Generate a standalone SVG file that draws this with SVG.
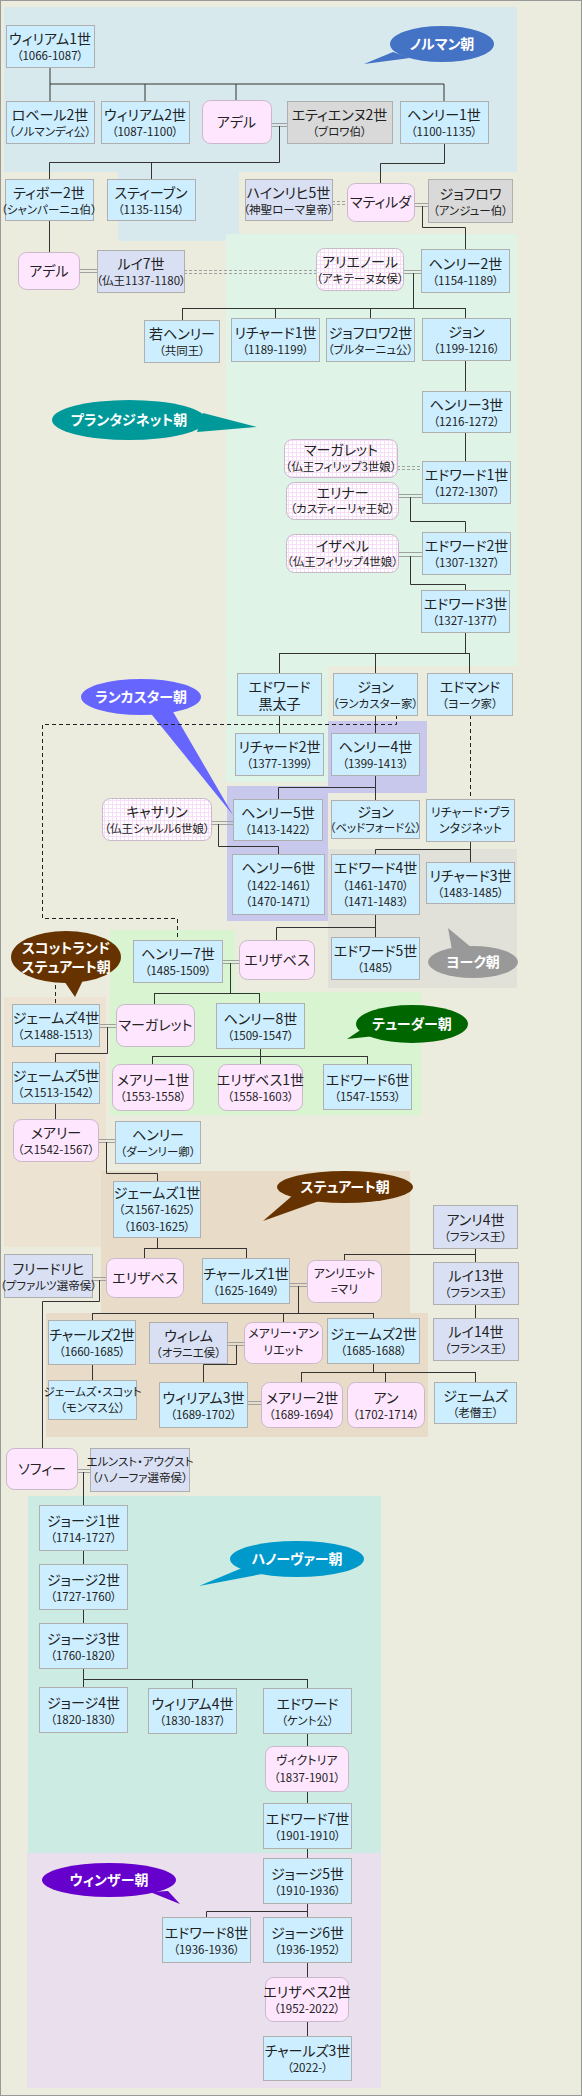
<svg xmlns="http://www.w3.org/2000/svg" width="582" height="2096" viewBox="0 0 582 2096">
<style>
text{font-family:"Noto Sans CJK JP","Noto Sans",sans-serif;font-feature-settings:"palt";text-anchor:middle;fill:#222}
.n{font-size:14px}
.s{font-size:11.5px}
.sm{font-size:12px}
.b{font-size:14px;font-weight:bold;fill:#fff}
.k{fill:#CCEEFF;stroke:#AFAFAF}
.q{fill:#FFE6FF;stroke:#C9B8C9}
.f{fill:url(#grid);stroke:#C9B8C9}
.l{fill:#D9E0F3;stroke:#AFAFAF}
.g{fill:#D9D9D9;stroke:#AFAFAF}
.c{fill:none;stroke:#333;stroke-width:1}
.m{fill:none;stroke:#A0A0A0;stroke-width:1}
.md{fill:none;stroke:#A0A0A0;stroke-width:1;stroke-dasharray:3 2}
.d{fill:none;stroke:#222;stroke-width:1;stroke-dasharray:4 3}
</style>
<defs>
<pattern id="grid" width="4" height="4" patternUnits="userSpaceOnUse">
<rect width="4" height="4" fill="#FFFFFF"/>
<path d="M0 0.5H4M0.5 0V4" stroke="#F8DDF8" stroke-width="1"/>
</pattern>
</defs>
<g id="bands">
<rect x="0.5" y="0.5" width="581" height="2095" fill="#ECECDE" stroke="#999"/>
<rect x="4" y="7" width="513" height="165" fill="#D7E9EC"/>
<rect x="118" y="172" width="121" height="69" fill="#D7E9EC"/>
<rect x="226" y="234" width="291" height="432" fill="#DFF4E7"/>
<rect x="226" y="666" width="102" height="116" fill="#DFF4E7"/>
<rect x="328" y="721" width="99" height="72" fill="#C8C8EC"/>
<rect x="227" y="786" width="101" height="135" fill="#C8C8EC"/>
<rect x="328" y="849" width="189" height="139" fill="#E1E1D9"/>
<rect x="110" y="930" width="125" height="185" fill="#D8F4D0"/>
<rect x="235" y="992" width="186" height="123" fill="#D8F4D0"/>
<rect x="4" y="997" width="102" height="250" fill="#ECE3D2"/>
<rect x="101" y="1171" width="309" height="142" fill="#E8DCC8"/>
<rect x="46" y="1313" width="382" height="124" fill="#E8DCC8"/>
<rect x="28" y="1496" width="353" height="357" fill="#CCEBE2"/>
<rect x="27" y="1853" width="354" height="235" fill="#EADFEC"/>
</g>
<g id="dynasty-labels">
<g id="lbl-norman"><path d="M393 52L364 64L410 58Z" fill="#4472C4"/><ellipse cx="442" cy="44" rx="52" ry="18" fill="#4472C4"/><text class="b" x="442" y="49">ノルマン朝</text></g>
<g id="lbl-plantagenet"><path d="M203 413L257 427L197 432Z" fill="#009999"/><ellipse cx="129" cy="420" rx="77" ry="20" fill="#009999"/><text class="b" x="129" y="425">プランタジネット朝</text></g>
<g id="lbl-lancaster"><path d="M148 710L233 815L172 710Z" fill="#6666FF"/><ellipse cx="141" cy="697" rx="60" ry="18" fill="#6666FF"/><text class="b" x="141" y="702">ランカスター朝</text></g>
<g id="lbl-york"><path d="M452 950L448 928L472 948Z" fill="#999"/><ellipse cx="473" cy="962" rx="45" ry="16" fill="#999"/><text class="b" x="473" y="967">ヨーク朝</text></g>
<g id="lbl-scot"><path d="M62 978L75 997L84 978Z" fill="#663300"/><ellipse cx="66" cy="957" rx="55" ry="26" fill="#663300"/><text class="b" x="66" y="953">スコットランド</text><text class="b" x="66" y="972">ステュアート朝</text></g>
<g id="lbl-tudor"><path d="M365 1027L347 1039L375 1036Z" fill="#006600"/><ellipse cx="412" cy="1024" rx="56" ry="19" fill="#006600"/><text class="b" x="412" y="1029">テューダー朝</text></g>
<g id="lbl-stuart"><path d="M292 1196L263 1221L322 1200Z" fill="#663300"/><ellipse cx="345" cy="1187" rx="68" ry="16" fill="#663300"/><text class="b" x="345" y="1192">ステュアート朝</text></g>
<g id="lbl-hanover"><path d="M242 1568L199 1586L262 1574Z" fill="#0099CC"/><ellipse cx="297" cy="1559" rx="67" ry="18" fill="#0099CC"/><text class="b" x="297" y="1564">ハノーヴァー朝</text></g>
<g id="lbl-windsor"><path d="M150 1892L180 1904L168 1891Z" fill="#6600CC"/><ellipse cx="109" cy="1880" rx="67" ry="17" fill="#6600CC"/><text class="b" x="109" y="1885">ウィンザー朝</text></g>
</g>
<g id="connectors">
<path class="c" d="M50 67V84H444V101M145 84V101M236 84V100M50 84V101"/>
<path class="m" d="M271 123.5H287M271 126.5H287"/>
<path class="c" d="M279.5 126V162.5H49.5V179M151.5 162V179"/>
<path class="c" d="M444.5 143V163.5H380.5V183"/>
<path class="md" d="M332 201.5H347M332 204.5H347"/>
<path class="m" d="M414 203.5H428M414 206.5H428"/>
<path class="c" d="M422.5 206V227.5H465.5V249"/>
<path class="c" d="M49.5 220V252"/>
<path class="m" d="M79 269.5H97M79 272.5H97"/>
<path class="md" d="M184 270.5H316M184 273.5H316"/>
<path class="m" d="M403 270.5H421M403 273.5H421"/>
<path class="c" d="M413.5 273V308.5M182.5 308.5H465.5M182.5 308V320M275.5 308V318M370.5 308V318M465.5 308V318"/>
<path class="c" d="M465.5 360V391M465.5 432V461"/>
<path class="md" d="M397 466.5H422M397 469.5H422"/>
<path class="m" d="M398 494.5H422M398 497.5H422"/>
<path class="c" d="M410.5 497V521.5H465.5V532"/>
<path class="m" d="M398 552.5H422M398 556.5H422"/>
<path class="c" d="M410.5 556V584.5H465.5V590"/>
<path class="c" d="M465.5 632V653.5M279.5 653.5H469.5M279.5 653V673M375.5 653V673M469.5 653V673"/>
<path class="c" d="M279.5 715V733M375.5 715V733"/>
<path class="d" d="M396.5 715V724.5H42.5V918.5H177.5V940"/>
<path class="d" d="M470.5 715V799"/>
<path class="c" d="M375.5 775V787.5H278.5V799M375.5 787V800"/>
<path class="m" d="M211 821.5H233M211 824.5H233"/>
<path class="c" d="M218.5 824V846.5H278.5V854"/>
<path class="c" d="M470.5 841V849.5H375.5V854M470.5 849V862"/>
<path class="c" d="M375.5 914V927.5H276.5V940M375.5 927V937"/>
<path class="m" d="M222 960.5H239M222 963.5H239"/>
<path class="c" d="M230.5 963V993.5M154.5 993.5H259.5M154.5 993V1004M259.5 993V1003"/>
<path class="d" d="M55.5 985V1004"/>
<path class="m" d="M99 1024.5H116M99 1027.5H116"/>
<path class="c" d="M107.5 1027V1053.5H55.5V1062"/>
<path class="c" d="M260.5 1048V1056.5M152.5 1056.5H367.5M152.5 1056V1064M260.5 1056V1064M367.5 1056V1064"/>
<path class="c" d="M55.5 1103V1119"/>
<path class="m" d="M98 1139.5H115M98 1142.5H115"/>
<path class="c" d="M106.5 1142V1173.5H157.5V1181"/>
<path class="c" d="M157.5 1237V1248.5M144.5 1248.5H246.5M144.5 1248V1258M246.5 1248V1258"/>
<path class="m" d="M92 1277.5H106M92 1280.5H106"/>
<path class="c" d="M99.5 1280V1301.5H42.5V1448"/>
<path class="c" d="M475.5 1248V1262M344.5 1254.5H475.5M344.5 1254V1260M475.5 1304V1318"/>
<path class="m" d="M289 1283.5H307M289 1286.5H307"/>
<path class="c" d="M298.5 1286V1313.5M92.5 1313.5H373.5M92.5 1313V1320M283.5 1313V1322M373.5 1313V1318"/>
<path class="m" d="M227 1342.5H244M227 1345.5H244"/>
<path class="c" d="M236.5 1345V1364.5H203.5V1382"/>
<path class="c" d="M373.5 1363V1372.5M301.5 1372.5H475.5M301.5 1372V1382M385.5 1372V1382M475.5 1372V1382"/>
<path class="c" d="M92.5 1364V1380"/>
<path class="m" d="M247 1401.5H261M247 1404.5H261"/>
<path class="m" d="M77 1469.5H90M77 1472.5H90"/>
<path class="c" d="M83.5 1472V1505M83.5 1550V1564M83.5 1609V1623"/>
<path class="c" d="M83.5 1668V1679.5H307.5M83.5 1679V1687M192.5 1679V1688M307.5 1679V1688"/>
<path class="c" d="M307.5 1733V1746M307.5 1791V1803M307.5 1848V1858"/>
<path class="c" d="M307.5 1903V1911.5H206.5V1917M307.5 1911V1917"/>
<path class="c" d="M307.5 1962V1977M307.5 2021V2036"/>
</g>
<g id="nodes">
<g id="w1"><rect class="k" x="6.5" y="25.5" width="88" height="42"/><text class="n" x="50" y="44">ウィリアム1世</text><text class="s" x="50" y="60">（1066-1087）</text></g>
<g id="robert"><rect class="k" x="6.5" y="101.5" width="88" height="42"/><text class="n" x="50" y="120">ロベール2世</text><text class="s" x="50" y="136">（ノルマンディ公）</text></g>
<g id="w2"><rect class="k" x="101.5" y="101.5" width="88" height="42"/><text class="n" x="145" y="120">ウィリアム2世</text><text class="s" x="145" y="136">（1087-1100）</text></g>
<g id="adele1"><rect class="q" x="202.5" y="100.5" width="69" height="43" rx="8"/><text class="n" x="236.5" y="126.5">アデル</text></g>
<g id="etienne"><rect class="g" x="287.5" y="101.5" width="105" height="42"/><text class="n" x="339.5" y="120">エティエンヌ2世</text><text class="s" x="339.5" y="136">（ブロワ伯）</text></g>
<g id="h1"><rect class="k" x="400.5" y="101.5" width="88" height="42"/><text class="n" x="444" y="120">ヘンリー1世</text><text class="s" x="444" y="136">（1100-1135）</text></g>
<g id="thibaut"><rect class="k" x="5.5" y="179.5" width="88" height="41"/><text class="n" x="49" y="197.5">ティボー2世</text><text class="s" x="49" y="213.5">（シャンパーニュ伯）</text></g>
<g id="stephen"><rect class="k" x="107.5" y="179.5" width="88" height="41"/><text class="n" x="151" y="197.5">スティーブン</text><text class="s" x="151" y="213.5">（1135-1154）</text></g>
<g id="heinrich"><rect class="l" x="245.5" y="179.5" width="87" height="41"/><text class="n" x="288.5" y="197.5">ハインリヒ5世</text><text class="s" x="288.5" y="213.5">（神聖ローマ皇帝）</text></g>
<g id="matilda"><rect class="q" x="347.5" y="183.5" width="67" height="38" rx="8"/><text class="n" x="380.5" y="207">マティルダ</text></g>
<g id="geoffrey"><rect class="g" x="428.5" y="179.5" width="84" height="43"/><text class="n" x="470.5" y="198.5">ジョフロワ</text><text class="s" x="470.5" y="214.5">（アンジュー伯）</text></g>
<g id="adele2"><rect class="q" x="18.5" y="252.5" width="61" height="37" rx="8"/><text class="n" x="49" y="275.5">アデル</text></g>
<g id="louis7"><rect class="l" x="97.5" y="250.5" width="87" height="42"/><text class="n" x="141" y="269">ルイ7世</text><text class="s" x="141" y="285">（仏王1137-1180）</text></g>
<g id="eleanor"><rect class="f" x="316.5" y="248.5" width="87" height="42" rx="8"/><text class="n" x="360" y="267">アリエノール</text><text class="s" x="360" y="283">（アキテーヌ女侯）</text></g>
<g id="h2"><rect class="k" x="421.5" y="249.5" width="88" height="43"/><text class="n" x="465.5" y="268.5">ヘンリー2世</text><text class="s" x="465.5" y="284.5">（1154-1189）</text></g>
<g id="younghenry"><rect class="k" x="144.5" y="320.5" width="75" height="42"/><text class="n" x="182" y="339">若ヘンリー</text><text class="s" x="182" y="355">（共同王）</text></g>
<g id="richard1"><rect class="k" x="231.5" y="318.5" width="88" height="43"/><text class="n" x="275.5" y="337.5">リチャード1世</text><text class="s" x="275.5" y="353.5">（1189-1199）</text></g>
<g id="geoffrey2"><rect class="k" x="326.5" y="318.5" width="88" height="43"/><text class="n" x="370.5" y="337.5">ジョフロワ2世</text><text class="s" x="370.5" y="353.5">（ブルターニュ公）</text></g>
<g id="john"><rect class="k" x="422.5" y="318.5" width="88" height="42"/><text class="n" x="466.5" y="337">ジョン</text><text class="s" x="466.5" y="353">（1199-1216）</text></g>
<g id="h3"><rect class="k" x="422.5" y="391.5" width="88" height="41"/><text class="n" x="466.5" y="409.5">ヘンリー3世</text><text class="s" x="466.5" y="425.5">（1216-1272）</text></g>
<g id="margaret1"><rect class="f" x="284.5" y="439.5" width="113" height="38" rx="8"/><text class="n" x="341" y="455">マーガレット</text><text class="s" x="341" y="470.5">（仏王フィリップ3世娘）</text></g>
<g id="e1"><rect class="k" x="422.5" y="461.5" width="88" height="42"/><text class="n" x="466.5" y="480">エドワード1世</text><text class="s" x="466.5" y="496">（1272-1307）</text></g>
<g id="eleanor2"><rect class="f" x="286.5" y="482.5" width="112" height="37" rx="8"/><text class="n" x="342.5" y="498">エリナー</text><text class="s" x="342.5" y="513">（カスティーリャ王妃）</text></g>
<g id="isabella"><rect class="f" x="286.5" y="534.5" width="112" height="38" rx="8"/><text class="n" x="342.5" y="550.5">イザベル</text><text class="s" x="342.5" y="566">（仏王フィリップ4世娘）</text></g>
<g id="e2"><rect class="k" x="422.5" y="532.5" width="88" height="42"/><text class="n" x="466.5" y="551">エドワード2世</text><text class="s" x="466.5" y="567">（1307-1327）</text></g>
<g id="e3"><rect class="k" x="421.5" y="590.5" width="88" height="42"/><text class="n" x="465.5" y="609">エドワード3世</text><text class="s" x="465.5" y="625">（1327-1377）</text></g>
<g id="blackprince"><rect class="k" x="237.5" y="673.5" width="84" height="42"/><text class="n" x="279.5" y="692">エドワード</text><text class="n" x="279.5" y="709">黒太子</text></g>
<g id="johngaunt"><rect class="k" x="333.5" y="673.5" width="84" height="42"/><text class="n" x="375.5" y="692">ジョン</text><text class="s" x="375.5" y="708">（ランカスター家）</text></g>
<g id="edmund"><rect class="k" x="427.5" y="673.5" width="85" height="42"/><text class="n" x="470" y="692">エドマンド</text><text class="s" x="470" y="708">（ヨーク家）</text></g>
<g id="r2"><rect class="k" x="235.5" y="733.5" width="88" height="42"/><text class="n" x="279.5" y="752">リチャード2世</text><text class="s" x="279.5" y="768">（1377-1399）</text></g>
<g id="h4"><rect class="k" x="331.5" y="733.5" width="88" height="42"/><text class="n" x="375.5" y="752">ヘンリー4世</text><text class="s" x="375.5" y="768">（1399-1413）</text></g>
<g id="catherine"><rect class="f" x="102.5" y="798.5" width="109" height="42" rx="8"/><text class="n" x="157" y="817">キャサリン</text><text class="s" x="157" y="833">（仏王シャルル6世娘）</text></g>
<g id="h5"><rect class="k" x="233.5" y="799.5" width="89" height="41"/><text class="n" x="278" y="817.5">ヘンリー5世</text><text class="s" x="278" y="833.5">（1413-1422）</text></g>
<g id="johnbedford"><rect class="k" x="331.5" y="800.5" width="88" height="38"/><text class="n" x="375.5" y="817">ジョン</text><text class="s" x="375.5" y="832">（ベッドフォード公）</text></g>
<g id="richardplantagenet"><rect class="k" x="426.5" y="799.5" width="88" height="42"/><text class="sm" x="470.5" y="817">リチャード・プラ</text><text class="sm" x="470.5" y="833">ンタジネット</text></g>
<g id="h6"><rect class="k" x="232.5" y="854.5" width="92" height="60"/><text class="n" x="278.5" y="873">ヘンリー6世</text><text class="s" x="278.5" y="890">（1422-1461）</text><text class="s" x="278.5" y="906">（1470-1471）</text></g>
<g id="e4"><rect class="k" x="331.5" y="854.5" width="88" height="60"/><text class="n" x="375.5" y="873">エドワード4世</text><text class="s" x="375.5" y="890">（1461-1470）</text><text class="s" x="375.5" y="906">（1471-1483）</text></g>
<g id="r3"><rect class="k" x="426.5" y="862.5" width="88" height="41"/><text class="n" x="470.5" y="880.5">リチャード3世</text><text class="s" x="470.5" y="896.5">（1483-1485）</text></g>
<g id="h7"><rect class="k" x="133.5" y="940.5" width="89" height="42"/><text class="n" x="178" y="959">ヘンリー7世</text><text class="s" x="178" y="975">（1485-1509）</text></g>
<g id="elizabethyork"><rect class="q" x="239.5" y="940.5" width="75" height="39" rx="8"/><text class="n" x="277" y="964.5">エリザベス</text></g>
<g id="e5"><rect class="k" x="331.5" y="937.5" width="88" height="42"/><text class="n" x="375.5" y="956">エドワード5世</text><text class="s" x="375.5" y="972">（1485）</text></g>
<g id="james4"><rect class="k" x="12.5" y="1004.5" width="87" height="42"/><text class="n" x="56" y="1023">ジェームズ4世</text><text class="s" x="56" y="1039">（ス1488-1513）</text></g>
<g id="margarettudor"><rect class="q" x="116.5" y="1004.5" width="78" height="42" rx="8"/><text class="n" x="155.5" y="1030">マーガレット</text></g>
<g id="h8"><rect class="k" x="216.5" y="1003.5" width="88" height="45"/><text class="n" x="260.5" y="1023.5">ヘンリー8世</text><text class="s" x="260.5" y="1039.5">（1509-1547）</text></g>
<g id="james5"><rect class="k" x="12.5" y="1062.5" width="87" height="41"/><text class="n" x="56" y="1080.5">ジェームズ5世</text><text class="s" x="56" y="1096.5">（ス1513-1542）</text></g>
<g id="mary1"><rect class="q" x="112.5" y="1064.5" width="81" height="46" rx="8"/><text class="n" x="153" y="1085">メアリー1世</text><text class="s" x="153" y="1101">（1553-1558）</text></g>
<g id="elizabeth1"><rect class="q" x="218.5" y="1064.5" width="84" height="46" rx="8"/><text class="n" x="260.5" y="1085">エリザベス1世</text><text class="s" x="260.5" y="1101">（1558-1603）</text></g>
<g id="e6"><rect class="k" x="323.5" y="1064.5" width="88" height="45"/><text class="n" x="367.5" y="1084.5">エドワード6世</text><text class="s" x="367.5" y="1100.5">（1547-1553）</text></g>
<g id="maryqs"><rect class="q" x="13.5" y="1119.5" width="85" height="42" rx="8"/><text class="n" x="56" y="1138">メアリー</text><text class="s" x="56" y="1154">（ス1542-1567）</text></g>
<g id="darnley"><rect class="k" x="115.5" y="1121.5" width="85" height="42"/><text class="n" x="158" y="1140">ヘンリー</text><text class="s" x="158" y="1156">（ダーンリー卿）</text></g>
<g id="james1"><rect class="k" x="113.5" y="1181.5" width="87" height="56"/><text class="n" x="157" y="1198">ジェームズ1世</text><text class="s" x="157" y="1214">（ス1567-1625）</text><text class="s" x="157" y="1231">（1603-1625）</text></g>
<g id="henri4"><rect class="l" x="433.5" y="1205.5" width="84" height="43"/><text class="n" x="475.5" y="1224.5">アンリ4世</text><text class="s" x="475.5" y="1240.5">（フランス王）</text></g>
<g id="frederick"><rect class="l" x="4.5" y="1254.5" width="88" height="43"/><text class="n" x="48.5" y="1273.5">フリードリヒ</text><text class="s" x="48.5" y="1289.5">（プファルツ選帝侯）</text></g>
<g id="elizabethst"><rect class="q" x="106.5" y="1258.5" width="77" height="39" rx="8"/><text class="n" x="145" y="1282.5">エリザベス</text></g>
<g id="charles1"><rect class="k" x="202.5" y="1258.5" width="87" height="45"/><text class="n" x="246" y="1278.5">チャールズ1世</text><text class="s" x="246" y="1294.5">（1625-1649）</text></g>
<g id="henrietta"><rect class="q" x="307.5" y="1260.5" width="74" height="42" rx="8"/><text class="sm" x="344.5" y="1278">アンリエット</text><text class="sm" x="344.5" y="1294">=マリ</text></g>
<g id="louis13"><rect class="l" x="433.5" y="1262.5" width="85" height="42"/><text class="n" x="476" y="1281">ルイ13世</text><text class="s" x="476" y="1297">（フランス王）</text></g>
<g id="louis14"><rect class="l" x="433.5" y="1318.5" width="85" height="42"/><text class="n" x="476" y="1337">ルイ14世</text><text class="s" x="476" y="1353">（フランス王）</text></g>
<g id="charles2"><rect class="k" x="48.5" y="1320.5" width="87" height="44"/><text class="n" x="92" y="1340">チャールズ2世</text><text class="s" x="92" y="1356">（1660-1685）</text></g>
<g id="willem"><rect class="l" x="149.5" y="1322.5" width="78" height="41"/><text class="n" x="188.5" y="1340.5">ウィレム</text><text class="s" x="188.5" y="1356.5">（オラニエ侯）</text></g>
<g id="maryhenrietta"><rect class="q" x="244.5" y="1322.5" width="78" height="41" rx="8"/><text class="sm" x="283.5" y="1338">メアリー・アン</text><text class="sm" x="283.5" y="1355">リエット</text></g>
<g id="james2"><rect class="k" x="327.5" y="1318.5" width="92" height="45"/><text class="n" x="373.5" y="1338.5">ジェームズ2世</text><text class="s" x="373.5" y="1354.5">（1685-1688）</text></g>
<g id="monmouth"><rect class="k" x="48.5" y="1380.5" width="88" height="39"/><text class="s" x="92.5" y="1396">ジェームズ・スコット</text><text class="s" x="92.5" y="1412">（モンマス公）</text></g>
<g id="w3"><rect class="k" x="159.5" y="1382.5" width="88" height="45"/><text class="n" x="203.5" y="1402.5">ウィリアム3世</text><text class="s" x="203.5" y="1418.5">（1689-1702）</text></g>
<g id="mary2"><rect class="q" x="261.5" y="1382.5" width="81" height="45" rx="8"/><text class="n" x="302" y="1402.5">メアリー2世</text><text class="s" x="302" y="1418.5">（1689-1694）</text></g>
<g id="anne"><rect class="q" x="347.5" y="1382.5" width="77" height="45" rx="8"/><text class="n" x="386" y="1402.5">アン</text><text class="s" x="386" y="1418.5">（1702-1714）</text></g>
<g id="jamesold"><rect class="k" x="434.5" y="1382.5" width="82" height="41"/><text class="n" x="475.5" y="1400.5">ジェームズ</text><text class="s" x="475.5" y="1416.5">（老僭王）</text></g>
<g id="sophia"><rect class="q" x="6.5" y="1448.5" width="71" height="41" rx="8"/><text class="n" x="42" y="1473.5">ソフィー</text></g>
<g id="ernest"><rect class="l" x="90.5" y="1448.5" width="99" height="43"/><text class="s" x="140" y="1466">エルンスト・アウグスト</text><text class="s" x="140" y="1482">（ハノーファ選帝侯）</text></g>
<g id="g1"><rect class="k" x="39.5" y="1505.5" width="88" height="45"/><text class="n" x="83.5" y="1525.5">ジョージ1世</text><text class="s" x="83.5" y="1541.5">（1714-1727）</text></g>
<g id="g2"><rect class="k" x="39.5" y="1564.5" width="88" height="45"/><text class="n" x="83.5" y="1584.5">ジョージ2世</text><text class="s" x="83.5" y="1600.5">（1727-1760）</text></g>
<g id="g3"><rect class="k" x="39.5" y="1623.5" width="88" height="45"/><text class="n" x="83.5" y="1643.5">ジョージ3世</text><text class="s" x="83.5" y="1659.5">（1760-1820）</text></g>
<g id="g4"><rect class="k" x="39.5" y="1687.5" width="88" height="45"/><text class="n" x="83.5" y="1707.5">ジョージ4世</text><text class="s" x="83.5" y="1723.5">（1820-1830）</text></g>
<g id="w4"><rect class="k" x="148.5" y="1688.5" width="88" height="45"/><text class="n" x="192.5" y="1708.5">ウィリアム4世</text><text class="s" x="192.5" y="1724.5">（1830-1837）</text></g>
<g id="edwardkent"><rect class="k" x="263.5" y="1688.5" width="88" height="45"/><text class="n" x="307.5" y="1708.5">エドワード</text><text class="s" x="307.5" y="1724.5">（ケント公）</text></g>
<g id="victoria"><rect class="q" x="265.5" y="1746.5" width="83" height="45" rx="8"/><text class="sm" x="307" y="1765">ヴィクトリア</text><text class="s" x="307" y="1782">（1837-1901）</text></g>
<g id="e7"><rect class="k" x="263.5" y="1803.5" width="88" height="45"/><text class="n" x="307.5" y="1823.5">エドワード7世</text><text class="s" x="307.5" y="1839.5">（1901-1910）</text></g>
<g id="g5"><rect class="k" x="263.5" y="1858.5" width="88" height="45"/><text class="n" x="307.5" y="1878.5">ジョージ5世</text><text class="s" x="307.5" y="1894.5">（1910-1936）</text></g>
<g id="e8"><rect class="k" x="162.5" y="1917.5" width="88" height="45"/><text class="n" x="206.5" y="1937.5">エドワード8世</text><text class="s" x="206.5" y="1953.5">（1936-1936）</text></g>
<g id="g6"><rect class="k" x="263.5" y="1917.5" width="88" height="45"/><text class="n" x="307.5" y="1937.5">ジョージ6世</text><text class="s" x="307.5" y="1953.5">（1936-1952）</text></g>
<g id="elizabeth2"><rect class="q" x="265.5" y="1977.5" width="83" height="44" rx="8"/><text class="n" x="307" y="1997">エリザベス2世</text><text class="s" x="307" y="2013">（1952-2022）</text></g>
<g id="charles3"><rect class="k" x="263.5" y="2036.5" width="88" height="44"/><text class="n" x="307.5" y="2056">チャールズ3世</text><text class="s" x="307.5" y="2072">（2022-）</text></g>
</g>
</svg>
